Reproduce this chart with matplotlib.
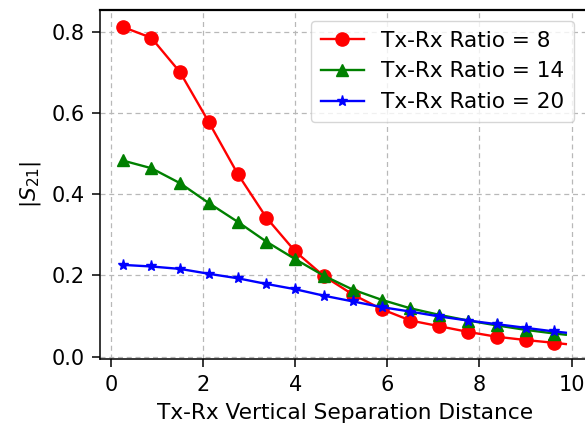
import matplotlib
matplotlib.use("Agg")
import matplotlib.pyplot as plt

# separation distance (markers every 0.625; last value is the line end point)
distance = [0.25, 0.875, 1.5, 2.125, 2.75, 3.375, 4.0, 4.625, 5.25, 5.875,
            6.5, 7.125, 7.75, 8.375, 9.0, 9.625, 9.875]

s21_ratio8 = [0.812, 0.785, 0.700, 0.577, 0.450, 0.342, 0.259, 0.198, 0.153,
              0.117, 0.089, 0.075, 0.061, 0.049, 0.041, 0.034, 0.031]
s21_ratio14 = [0.483, 0.464, 0.427, 0.378, 0.332, 0.283, 0.240, 0.199, 0.165,
               0.140, 0.119, 0.103, 0.089, 0.077, 0.066, 0.057, 0.054]
s21_ratio20 = [0.226, 0.222, 0.216, 0.204, 0.193, 0.179, 0.166, 0.150, 0.136,
               0.122, 0.111, 0.099, 0.089, 0.080, 0.071, 0.062, 0.059]

labels = ["Tx-Rx Ratio = 8", "Tx-Rx Ratio = 14", "Tx-Rx Ratio = 20"]
x_ticks = [0, 2, 4, 6, 8, 10]
y_ticks = [0.0, 0.2, 0.4, 0.6, 0.8]

FS = 15.6

fig = plt.figure(figsize=(5.85, 4.29), dpi=100)
ax = fig.add_axes([100 / 585, (429 - 359.3) / 429, 490 / 585, 349.3 / 429])

mk_idx = list(range(16))
ax.plot(distance, s21_ratio8, color="red", marker="o", markersize=9.5, lw=1.7,
        markevery=mk_idx, label=labels[0])
ax.plot(distance, s21_ratio14, color="green", marker="^", markersize=8.5, lw=1.7,
        markevery=mk_idx, label=labels[1])
ax.plot(distance, s21_ratio20, color="blue", marker="*", markersize=8, lw=1.7,
        markevery=mk_idx, label=labels[2])

ax.set_xlim(-0.24, 10.4)
ax.set_ylim(-0.0065, 0.8535)
ax.set_xticks(x_ticks)
ax.set_yticks(y_ticks)
ax.tick_params(labelsize=15, length=6, width=1.1, pad=5)
ax.grid(True, linestyle=(0, (4, 3)), color="#b8b8b8", lw=0.9)
ax.set_axisbelow(True)
for sp in ax.spines.values():
    sp.set_color("black")
    sp.set_linewidth(1.1)
ax.spines["top"].set_linewidth(1.6)

ax.set_xlabel("Tx-Rx Vertical Separation Distance", fontsize=FS, labelpad=6)
ax.set_ylabel(r"$|S_{21}|$", fontsize=FS, labelpad=6)

ax.legend(loc="upper right", fontsize=FS, bbox_to_anchor=(0.99, 1.0),
          handlelength=2.0, borderpad=0.45, labelspacing=0.5)

fig.savefig("out.png", dpi=100)
